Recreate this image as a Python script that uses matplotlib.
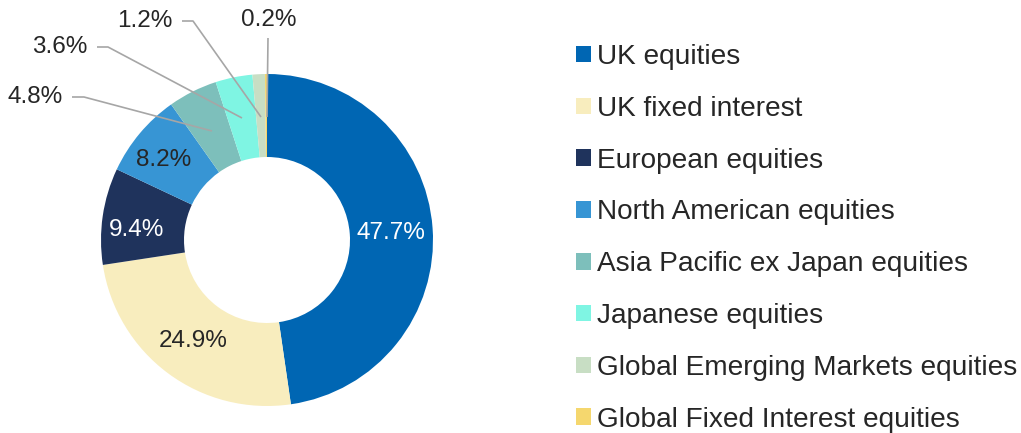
import numpy as np
import matplotlib.pyplot as plt

plt.rcParams['font.family'] = ['Liberation Sans', 'DejaVu Sans']

categories = ['UK equities', 'UK fixed interest', 'European equities',
              'North American equities', 'Asia Pacific ex Japan equities',
              'Japanese equities', 'Global Emerging Markets equities',
              'Global Fixed Interest equities']
shares = [47.7, 24.9, 9.4, 8.2, 4.8, 3.6, 1.2, 0.2]
colours = ['#0066b3', '#f8edbe', '#1f335c', '#3795d4', '#7dbfbb',
           '#7ff5e3', '#c8dec4', '#f5d76e']

W, H = 1021, 433
fig = plt.figure(figsize=(W / 100, H / 100), dpi=100)

# pie centre and radius in pixels
cx, cy, r = 267, 240, 166
ax = fig.add_axes([(cx - r) / W, (H - cy - r) / H, 2 * r / W, 2 * r / H])
wedges, _ = ax.pie(shares, colors=colours, startangle=90, counterclock=False,
                   radius=1, wedgeprops=dict(width=0.5, linewidth=0))
ax.set_xlim(-1, 1)
ax.set_ylim(-1, 1)
ax.set_aspect('equal')
ax.axis('off')

txt = '#262626'
fs = 17.5

def px(x, y):
    return ((x - cx) / r, (cy - y) / r)

# labels inside the ring
inside = [(391, 233, 'white'), (193, 341, txt), (137, 230, 'white'), (164, 160, txt)]
for i, (x, y, c) in enumerate(inside):
    ax.text(*px(x, y), '{:.1f}%'.format(shares[i]), color=c, fontsize=fs,
            ha='center', va='center')

# small slices with leader lines: text pos, elbow, end
outside = [
    ((35, 97), [(72, 97), (84, 97), (212, 131)]),
    ((60, 47), [(97, 47), (108, 47), (242, 118)]),
    ((145, 21), [(182, 21), (193, 21), (261, 117)]),
    ((269, 20), [(268, 38), (268, 38), (267, 117)]),
]
for k, (tpos, pts) in enumerate(outside):
    i = 4 + k
    ax.text(*px(*tpos), '{:.1f}%'.format(shares[i]), color=txt, fontsize=fs,
            ha='center', va='center')
    xs, ys = zip(*[px(*p) for p in pts])
    ax.plot(xs, ys, color='#a6a6a6', lw=1.2, clip_on=False, solid_capstyle='butt')

leg = fig.legend(wedges, categories, loc='upper left',
                 bbox_to_anchor=(576 / W, 1 - 44 / H), frameon=False,
                 fontsize=20.2, labelcolor=txt, handlelength=0.54,
                 handleheight=0.54, handletextpad=0.22, labelspacing=0.92,
                 borderpad=0, borderaxespad=0)

fig.savefig('out.png', dpi=100)
